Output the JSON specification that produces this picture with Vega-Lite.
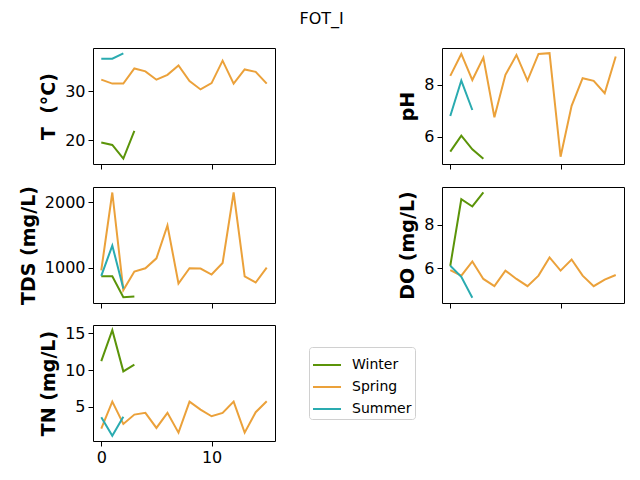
{
  "$schema": "https://vega.github.io/schema/vega-lite/v6.json",
  "padding": {"left": 18, "top": 10, "right": 14, "bottom": 5},
  "title": {"text": "FOT_I", "fontSize": 16, "fontWeight": "normal", "font": "DejaVu Sans", "anchor": "middle", "color": "black", "offset": 21},
  "datasets": {
    "d": [
      {"season": "Winter", "i": 0, "T": 19.5, "pH": 5.42, "TDS": 873, "DO": 6.12, "TN": 11.2},
      {"season": "Winter", "i": 1, "T": 19.0, "pH": 6.04, "TDS": 873, "DO": 9.16, "TN": 15.4},
      {"season": "Winter", "i": 2, "T": 16.2, "pH": 5.51, "TDS": 552, "DO": 8.83, "TN": 9.82},
      {"season": "Winter", "i": 3, "T": 21.9, "pH": 5.14, "TDS": 563, "DO": 9.47, "TN": 10.72},
      {"season": "Spring", "i": 0, "T": 32.4, "pH": 8.35, "TDS": 964, "DO": 5.92, "TN": 2.06},
      {"season": "Spring", "i": 1, "T": 31.6, "pH": 9.2, "TDS": 2151, "DO": 5.67, "TN": 5.72},
      {"season": "Spring", "i": 2, "T": 31.6, "pH": 8.19, "TDS": 662, "DO": 6.32, "TN": 2.69},
      {"season": "Spring", "i": 3, "T": 34.7, "pH": 9.06, "TDS": 944, "DO": 5.52, "TN": 3.96},
      {"season": "Spring", "i": 4, "T": 34.1, "pH": 6.75, "TDS": 995, "DO": 5.19, "TN": 4.19},
      {"season": "Spring", "i": 5, "T": 32.4, "pH": 8.39, "TDS": 1146, "DO": 5.9, "TN": 2.15},
      {"season": "Spring", "i": 6, "T": 33.4, "pH": 9.16, "TDS": 1649, "DO": 5.52, "TN": 4.19},
      {"season": "Spring", "i": 7, "T": 35.3, "pH": 8.17, "TDS": 763, "DO": 5.19, "TN": 1.51},
      {"season": "Spring", "i": 8, "T": 32.1, "pH": 9.2, "TDS": 995, "DO": 5.67, "TN": 5.72},
      {"season": "Spring", "i": 9, "T": 30.4, "pH": 9.23, "TDS": 990, "DO": 6.5, "TN": 4.63},
      {"season": "Spring", "i": 10, "T": 31.7, "pH": 5.22, "TDS": 899, "DO": 5.9, "TN": 3.73},
      {"season": "Spring", "i": 11, "T": 36.3, "pH": 7.19, "TDS": 1075, "DO": 6.41, "TN": 4.19},
      {"season": "Spring", "i": 12, "T": 31.6, "pH": 8.26, "TDS": 2151, "DO": 5.67, "TN": 5.72},
      {"season": "Spring", "i": 13, "T": 34.5, "pH": 8.16, "TDS": 873, "DO": 5.19, "TN": 1.51},
      {"season": "Spring", "i": 14, "T": 34.0, "pH": 7.68, "TDS": 778, "DO": 5.49, "TN": 4.28},
      {"season": "Spring", "i": 15, "T": 31.6, "pH": 9.1, "TDS": 1005, "DO": 5.7, "TN": 5.77},
      {"season": "Summer", "i": 0, "T": 36.7, "pH": 6.8, "TDS": 880, "DO": 6.12, "TN": 3.6},
      {"season": "Summer", "i": 1, "T": 36.7, "pH": 8.17, "TDS": 1341, "DO": 5.62, "TN": 1.1},
      {"season": "Summer", "i": 2, "T": 37.8, "pH": 7.03, "TDS": 688, "DO": 4.66, "TN": 3.66}
    ]
  },
  "data": {"name": "d"},
  "columns": 2,
  "spacing": {"row": 15, "column": 122},
  "concat": [
    {
      "width": 182, "height": 116,
      "mark": {"type": "line", "strokeWidth": 2},
      "encoding": {
        "x": {"field": "i", "type": "quantitative", "scale": {"domain": [-0.75, 15.75], "nice": false, "zero": false}, "axis": {"values": [0, 10], "labels": false, "title": null}},
        "y": {"field": "T", "type": "quantitative", "scale": {"domain": [15.1, 38.9], "nice": false, "zero": false}, "axis": {"values": [20, 30], "title": "T \u00a0(°C)"}},
        "color": {"field": "season", "type": "nominal", "scale": {"domain": ["Winter", "Spring", "Summer"], "range": ["#5b9409", "#eba13a", "#2aabb0"]}, "sort": null},
        "order": {"field": "i"}
      }
    },
    {
      "width": 182, "height": 116,
      "mark": {"type": "line", "strokeWidth": 2},
      "encoding": {
        "x": {"field": "i", "type": "quantitative", "scale": {"domain": [-0.75, 15.75], "nice": false, "zero": false}, "axis": {"values": [0, 10], "labels": false, "title": null}},
        "y": {"field": "pH", "type": "quantitative", "scale": {"domain": [4.94, 9.43], "nice": false, "zero": false}, "axis": {"values": [6, 8], "title": "pH"}},
        "color": {"field": "season", "type": "nominal", "scale": {"domain": ["Winter", "Spring", "Summer"], "range": ["#5b9409", "#eba13a", "#2aabb0"]}, "sort": null},
        "order": {"field": "i"}
      }
    },
    {
      "width": 182, "height": 116,
      "mark": {"type": "line", "strokeWidth": 2},
      "encoding": {
        "x": {"field": "i", "type": "quantitative", "scale": {"domain": [-0.75, 15.75], "nice": false, "zero": false}, "axis": {"values": [0, 10], "labels": false, "title": null}},
        "y": {"field": "TDS", "type": "quantitative", "scale": {"domain": [465, 2235], "nice": false, "zero": false}, "axis": {"values": [1000, 2000], "format": "d", "title": "TDS (mg/L)"}},
        "color": {"field": "season", "type": "nominal", "scale": {"domain": ["Winter", "Spring", "Summer"], "range": ["#5b9409", "#eba13a", "#2aabb0"]}, "sort": null},
        "order": {"field": "i"}
      }
    },
    {
      "width": 182, "height": 116,
      "mark": {"type": "line", "strokeWidth": 2},
      "encoding": {
        "x": {"field": "i", "type": "quantitative", "scale": {"domain": [-0.75, 15.75], "nice": false, "zero": false}, "axis": {"values": [0, 10], "labels": false, "title": null}},
        "y": {"field": "DO", "type": "quantitative", "scale": {"domain": [4.42, 9.72], "nice": false, "zero": false}, "axis": {"values": [6, 8], "title": "DO (mg/L)"}},
        "color": {"field": "season", "type": "nominal", "scale": {"domain": ["Winter", "Spring", "Summer"], "range": ["#5b9409", "#eba13a", "#2aabb0"]}, "sort": null},
        "order": {"field": "i"}
      }
    },
    {
      "width": 182, "height": 116,
      "mark": {"type": "line", "strokeWidth": 2},
      "encoding": {
        "x": {"field": "i", "type": "quantitative", "scale": {"domain": [-0.75, 15.75], "nice": false, "zero": false}, "axis": {"values": [0, 10], "labels": true, "title": null}},
        "y": {"field": "TN", "type": "quantitative", "scale": {"domain": [0.38, 16.1], "nice": false, "zero": false}, "axis": {"values": [5, 10, 15], "title": "TN (mg/L)"}},
        "color": {"field": "season", "type": "nominal", "scale": {"domain": ["Winter", "Spring", "Summer"], "range": ["#5b9409", "#eba13a", "#2aabb0"]}, "sort": null, "legend": {"orient": "none", "legendX": 216, "legendY": 299, "title": null}},
        "order": {"field": "i"}
      }
    }
  ],
  "config": {
    "font": "DejaVu Sans",
    "view": {"stroke": "black", "strokeWidth": 1},
    "axis": {
      "grid": false,
      "domain": false,
      "tickColor": "black",
      "tickSize": 5,
      "tickWidth": 1,
      "labelColor": "black",
      "labelFont": "DejaVu Sans",
      "labelFontSize": 16,
      "labelPadding": 3,
      "titleFont": "DejaVu Sans",
      "titleFontSize": 19,
      "titleFontWeight": "bold",
      "titleColor": "black",
      "titlePadding": 6
    },
    "axisY": {"labelFlush": false},
    "axisX": {"labelFlush": false},
    "legend": {
      "symbolType": "stroke",
      "symbolStrokeWidth": 2,
      "symbolSize": 784,
      "labelFont": "DejaVu Sans",
      "labelFontSize": 14,
      "labelColor": "black",
      "labelOffset": 10,
      "rowPadding": 0,
      "padding": 3,
      "cornerRadius": 3,
      "strokeColor": "#d0d0d0",
      "fillColor": "white"
    }
  }
}
